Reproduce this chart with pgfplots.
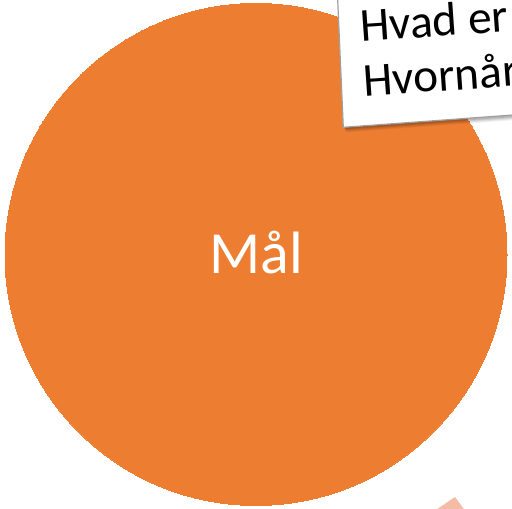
\documentclass[border=0pt]{standalone}
\usepackage{pgfplots}
\pgfplotsset{compat=1.18}
\usepackage{fontspec}
\setmainfont{Carlito}
\definecolor{maalorange}{HTML}{ED7D31}
\definecolor{salmon}{HTML}{F4BBA5}
\begin{document}
\begin{tikzpicture}
\begin{axis}[
  at={(0,0)}, anchor=south west,
  scale only axis, width=512bp, height=509bp,
  xmin=0, xmax=512, ymin=0, ymax=509,
  hide axis, clip=true,
]
% single full pie (100%)
\addplot[color=maalorange, only marks, mark=*, mark size=251bp, mark options={fill=maalorange, draw=maalorange, line width=0pt}] coordinates {(256,254.5)};
\addplot[fill=salmon, draw=none] coordinates {(433,-3) (455,12) (466,-3)} -- cycle;
\end{axis}
\node[text=white, font=\fontsize{60}{66}\selectfont, anchor=center, inner sep=0pt] at (256.5bp,256bp) {Mål};
% sticky note
\begin{scope}
  \clip (0,0) rectangle (512bp,509bp);
  \foreach \o/\op in {5/0.06,4/0.07,3/0.09,2/0.11}{
    \fill[black, opacity=\op] ([shift={(0.6*\o bp,-\o bp)}]336.8bp,529bp) -- ([shift={(0.6*\o bp,-\o bp)}]343.3bp,381.7bp) -- ([shift={(0.6*\o bp,-\o bp)}]600bp,400.3bp) -- (600bp,560bp) -- cycle;
  }
  \filldraw[fill=white, draw=gray!75, line width=1.2bp] (336.8bp,529bp) -- (343.3bp,381.7bp) -- (600bp,400.3bp) -- (600bp,560bp) -- cycle;
  \node[anchor=base west, inner sep=0pt, rotate=4, font=\fontsize{47.5}{52}\selectfont] at (361bp,467bp) {Hvad er målet?};
  \node[anchor=base west, inner sep=0pt, rotate=4, font=\fontsize{47.5}{52}\selectfont] at (364bp,412.5bp) {Hvornår er målet nået?};
\end{scope}
\pgfresetboundingbox
\path (0,0) rectangle (512bp,509bp);
\end{tikzpicture}
\end{document}
